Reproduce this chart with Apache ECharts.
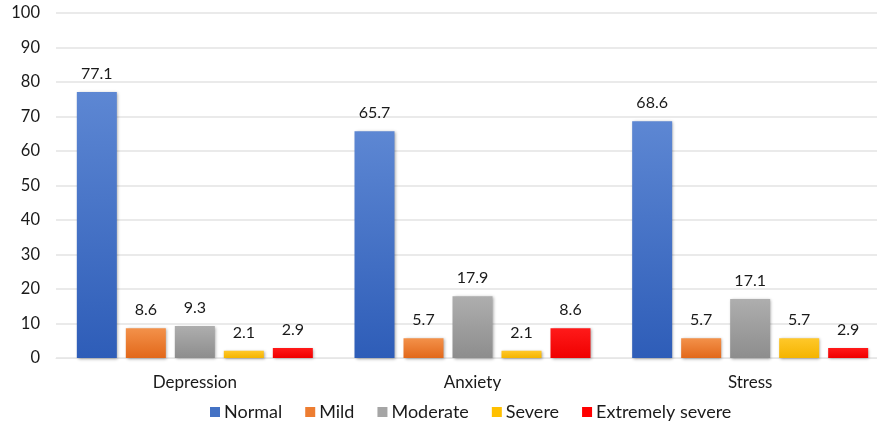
<!DOCTYPE html>
<html>
<head>
<meta charset="utf-8">
<script src="https://cdn.jsdelivr.net/npm/echarts@6/dist/echarts.min.js"></script>
<style>
  html, body { margin: 0; padding: 0; background: #fff; }
  #chart { width: 877px; height: 423px; }
</style>
</head>
<body>
<div id="chart"></div>
<script>
// DASS-21 severity distribution (%) per scale
const categories = ['Depression', 'Anxiety', 'Stress'];
const severityLevels = ['Normal', 'Mild', 'Moderate', 'Severe', 'Extremely severe'];
const normal = [77.1, 65.7, 68.6];
const mild = [8.6, 5.7, 5.7];
const moderate = [9.3, 17.9, 17.1];
const severe = [2.1, 2.1, 5.7];
const extremelySevere = [2.9, 8.6, 2.9];
const yTicks = [0, 10, 20, 30, 40, 50, 60, 70, 80, 90, 100];

const seriesValues = [normal, mild, moderate, severe, extremelySevere];
const palette = [
  ['#5d87d3', '#2e5db8', '#4472c4'],
  ['#f3914a', '#e2681a', '#ed7d31'],
  ['#aeaeae', '#8d8d8d', '#a5a5a5'],
  ['#ffc82a', '#f4b400', '#ffc000'],
  ['#ff1a1a', '#f00000', '#ff0000']
];

const FONT = 'Lato, "Open Sans", sans-serif';

const chart = echarts.init(document.getElementById('chart'), null, { renderer: 'canvas' });

chart.setOption({
  animation: false,
  textStyle: { fontFamily: FONT },
  // plot area runs past the right edge of the canvas
  grid: { left: 56, top: 13, width: 833, height: 345, containLabel: false, outerBoundsMode: 'none' },
  legend: {
    top: 398,
    left: 205,
    itemWidth: 10,
    itemHeight: 10,
    itemGap: 23,
    icon: 'rect',
    textStyle: { fontFamily: FONT, fontSize: 18, color: '#1a1a1a', padding: [0, 0, 0, -1] },
    data: severityLevels.map((n, i) => ({ name: n, itemStyle: { color: palette[i][2], shadowBlur: 0 } }))
  },
  xAxis: {
    type: 'category',
    data: categories,
    axisLine: { show: true, lineStyle: { color: '#e6e6e6', width: 1 } },
    axisTick: { show: false },
    axisLabel: { fontFamily: FONT, fontSize: 17, color: '#1a1a1a', margin: 16 }
  },
  yAxis: {
    type: 'value',
    min: yTicks[0],
    max: yTicks[yTicks.length - 1],
    interval: yTicks[1] - yTicks[0],
    axisLine: { show: false },
    axisTick: { show: false },
    splitLine: { lineStyle: { color: '#e3e3e3', width: 1.5 } },
    axisLabel: { fontFamily: FONT, fontSize: 16.5, color: '#1a1a1a', margin: 16 }
  },
  series: seriesValues.map((vals, i) => ({
    name: severityLevels[i],
    type: 'bar',
    data: vals,
    barWidth: 40,
    barGap: '22.5%',
    barCategoryGap: '15%',
    itemStyle: {
      color: new echarts.graphic.LinearGradient(0, 0, 0, 1, [
        { offset: 0, color: palette[i][0] },
        { offset: 1, color: palette[i][1] }
      ]),
      shadowColor: 'rgba(0,0,0,0.35)',
      shadowBlur: 3,
      shadowOffsetX: 1,
      shadowOffsetY: 1
    },
    label: {
      show: true,
      position: 'top',
      distance: 10,
      fontFamily: FONT,
      fontSize: 16,
      color: '#1a1a1a',
      formatter: p => p.value.toFixed(1)
    }
  }))
});
</script>
</body>
</html>
